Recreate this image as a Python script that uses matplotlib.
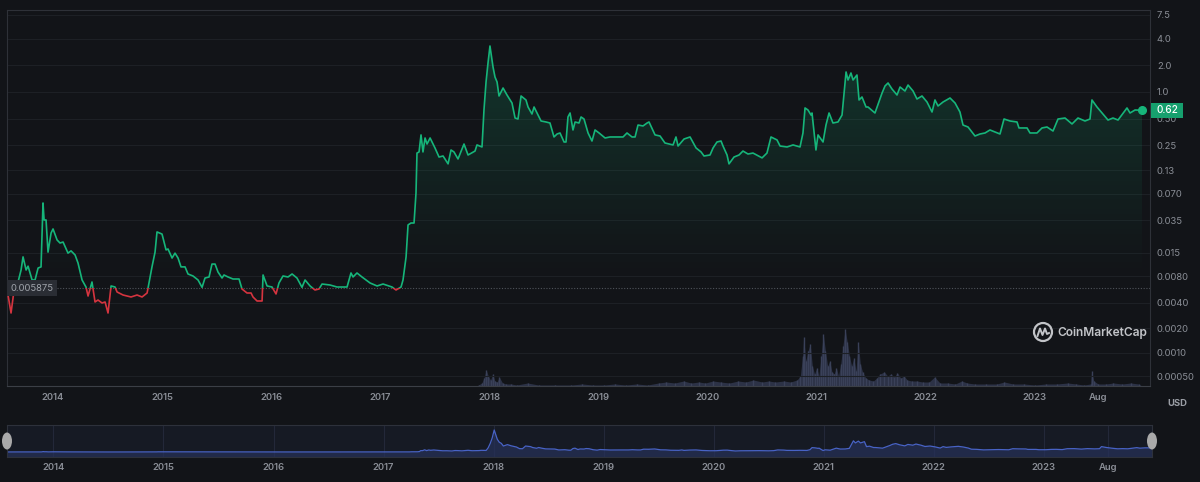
import numpy as np
import matplotlib
matplotlib.use('Agg')
from matplotlib import pyplot as plt
from matplotlib.patches import Rectangle, Ellipse
from matplotlib.lines import Line2D
from matplotlib.ticker import NullLocator
from matplotlib.transforms import blended_transform_factory

# price history (decimal year, USD)
years = [
    2013.578, 2013.615, 2013.643, 2013.670, 2013.707, 2013.725, 2013.753, 2013.771, 2013.808, 2013.835,
    2013.863, 2013.890, 2013.908, 2013.918, 2013.936, 2013.954, 2013.982, 2014.000, 2014.037, 2014.064,
    2014.092, 2014.137, 2014.165, 2014.202, 2014.229, 2014.266, 2014.302, 2014.321, 2014.357, 2014.385,
    2014.412, 2014.449, 2014.477, 2014.504, 2014.532, 2014.568, 2014.587, 2014.642, 2014.715, 2014.770,
    2014.816, 2014.862, 2014.871, 2014.907, 2014.935, 2014.953, 2014.999, 2015.008, 2015.036, 2015.054,
    2015.091, 2015.118, 2015.146, 2015.173, 2015.210, 2015.237, 2015.283, 2015.329, 2015.366, 2015.393,
    2015.430, 2015.457, 2015.485, 2015.512, 2015.549, 2015.567, 2015.604, 2015.650, 2015.705, 2015.732,
    2015.778, 2015.815, 2015.833, 2015.870, 2015.916, 2015.925, 2015.962, 2016.007, 2016.044, 2016.071,
    2016.108, 2016.154, 2016.191, 2016.236, 2016.282, 2016.310, 2016.356, 2016.401, 2016.438, 2016.466,
    2016.539, 2016.603, 2016.695, 2016.731, 2016.750, 2016.786, 2016.832, 2016.906, 2016.970, 2017.025,
    2017.107, 2017.144, 2017.190, 2017.208, 2017.236, 2017.254, 2017.281, 2017.309, 2017.327, 2017.336,
    2017.355, 2017.373, 2017.391, 2017.410, 2017.428, 2017.456, 2017.501, 2017.538, 2017.575, 2017.621,
    2017.648, 2017.675, 2017.712, 2017.767, 2017.804, 2017.868, 2017.886, 2017.932, 2017.950, 2017.969,
    2017.987, 2018.005, 2018.033, 2018.051, 2018.070, 2018.088, 2018.125, 2018.161, 2018.207, 2018.235,
    2018.262, 2018.290, 2018.335, 2018.354, 2018.390, 2018.409, 2018.436, 2018.473, 2018.519, 2018.555,
    2018.592, 2018.620, 2018.647, 2018.684, 2018.702, 2018.720, 2018.739, 2018.766, 2018.785, 2018.821,
    2018.840, 2018.867, 2018.904, 2018.940, 2018.968, 2019.005, 2019.060, 2019.105, 2019.170, 2019.225,
    2019.261, 2019.307, 2019.335, 2019.362, 2019.408, 2019.445, 2019.463, 2019.518, 2019.564, 2019.609,
    2019.683, 2019.710, 2019.729, 2019.784, 2019.839, 2019.894, 2019.940, 2019.967, 2020.022, 2020.050,
    2020.086, 2020.123, 2020.141, 2020.178, 2020.196, 2020.242, 2020.288, 2020.324, 2020.370, 2020.416,
    2020.499, 2020.544, 2020.581, 2020.636, 2020.664, 2020.728, 2020.783, 2020.847, 2020.874, 2020.893,
    2020.920, 2020.948, 2020.957, 2020.993, 2021.012, 2021.058, 2021.085, 2021.113, 2021.149, 2021.195,
    2021.232, 2021.269, 2021.287, 2021.314, 2021.333, 2021.369, 2021.388, 2021.415, 2021.452, 2021.470,
    2021.534, 2021.599, 2021.626, 2021.654, 2021.690, 2021.736, 2021.764, 2021.809, 2021.837, 2021.883,
    2021.919, 2021.965, 2022.011, 2022.057, 2022.084, 2022.112, 2022.158, 2022.222, 2022.268, 2022.313,
    2022.341, 2022.387, 2022.451, 2022.497, 2022.543, 2022.588, 2022.634, 2022.680, 2022.717, 2022.772,
    2022.836, 2022.854, 2022.928, 2022.955, 2023.019, 2023.065, 2023.111, 2023.166, 2023.212, 2023.276,
    2023.340, 2023.395, 2023.459, 2023.505, 2023.523, 2023.569, 2023.615, 2023.670, 2023.716, 2023.762,
    2023.844, 2023.872, 2023.918, 2023.982,
]
prices = [
    0.00574, 0.00302, 0.00559, 0.00622, 0.00949, 0.0134, 0.00949, 0.0105, 0.00729, 0.00729,
    0.0100, 0.0103, 0.0551, 0.0353, 0.0353, 0.0152, 0.0251, 0.0279, 0.0209, 0.0193,
    0.0198, 0.0148, 0.0157, 0.0141, 0.0114, 0.00729, 0.00605, 0.00476, 0.00691, 0.00406,
    0.00428, 0.00395, 0.00406, 0.00302, 0.00622, 0.00605, 0.00530, 0.00489, 0.00464, 0.00489,
    0.00464, 0.00516, 0.00590, 0.0103, 0.0152, 0.0258, 0.0244, 0.0220, 0.0161, 0.0165,
    0.0130, 0.0148, 0.0130, 0.0103, 0.0103, 0.00854, 0.00810, 0.00729, 0.00600, 0.00768,
    0.00789, 0.0111, 0.0111, 0.00900, 0.00768, 0.00832, 0.00789, 0.00748, 0.00748, 0.00574,
    0.00516, 0.00516, 0.00464, 0.00417, 0.00417, 0.00832, 0.00622, 0.00605, 0.00503, 0.00673,
    0.00810, 0.00789, 0.00854, 0.00768, 0.00600, 0.00729, 0.00622, 0.00559, 0.00574, 0.00655,
    0.00638, 0.00605, 0.00605, 0.00877, 0.00789, 0.00877, 0.00789, 0.00673, 0.00622, 0.00655,
    0.00605, 0.00559, 0.00605, 0.00729, 0.0134, 0.0310, 0.0326, 0.0326, 0.0716, 0.203,
    0.209, 0.326, 0.209, 0.301, 0.257, 0.301, 0.232, 0.183, 0.188, 0.153,
    0.220, 0.209, 0.174, 0.257, 0.193, 0.214, 0.251, 0.238, 0.625, 1.298,
    2.132, 3.323, 1.920, 1.480, 1.298, 0.901, 1.110, 0.925, 0.750, 0.507,
    0.494, 0.901, 0.812, 0.676, 0.563, 0.676, 0.578, 0.469, 0.457, 0.445,
    0.309, 0.334, 0.343, 0.271, 0.271, 0.521, 0.578, 0.371, 0.457, 0.445,
    0.521, 0.494, 0.343, 0.278, 0.371, 0.343, 0.301, 0.309, 0.309, 0.309,
    0.343, 0.309, 0.309, 0.422, 0.412, 0.445, 0.457, 0.326, 0.317, 0.264,
    0.251, 0.309, 0.244, 0.293, 0.309, 0.232, 0.209, 0.188, 0.193, 0.232,
    0.271, 0.278, 0.244, 0.193, 0.153, 0.183, 0.193, 0.214, 0.198, 0.203,
    0.179, 0.203, 0.309, 0.286, 0.244, 0.238, 0.251, 0.238, 0.343, 0.659,
    0.625, 0.548, 0.578, 0.220, 0.326, 0.271, 0.422, 0.578, 0.445, 0.457,
    0.548, 1.686, 1.368, 1.642, 1.368, 1.558, 0.812, 0.878, 0.676, 0.676,
    0.578, 0.974, 1.170, 1.265, 1.081, 0.925, 1.139, 1.026, 1.200, 1.026,
    0.833, 0.901, 0.770, 0.593, 0.812, 0.694, 0.770, 0.855, 0.750, 0.593,
    0.422, 0.401, 0.317, 0.334, 0.343, 0.371, 0.352, 0.334, 0.494, 0.469,
    0.457, 0.391, 0.391, 0.343, 0.343, 0.391, 0.401, 0.361, 0.494, 0.507,
    0.434, 0.507, 0.469, 0.494, 0.812, 0.676, 0.578, 0.481, 0.507, 0.481,
    0.659, 0.578, 0.625, 0.62,
]

# trading volume (relative units)
vol_years = [
    2017.88, 2017.90, 2017.93, 2017.95, 2017.97, 2017.99, 2018.01, 2018.03, 2018.05, 2018.07, 2018.09,
    2018.12, 2018.15, 2018.20, 2018.25, 2018.35, 2018.45, 2018.60, 2018.75, 2018.85, 2018.95,
    2019.05, 2019.15, 2019.25, 2019.35, 2019.45, 2019.55, 2019.62, 2019.70, 2019.78, 2019.85,
    2019.92, 2019.98, 2020.05, 2020.12, 2020.20, 2020.28, 2020.35, 2020.42, 2020.50, 2020.56,
    2020.62, 2020.70, 2020.76, 2020.82, 2020.85, 2020.87, 2020.88, 2020.90, 2020.92, 2020.94,
    2020.96, 2020.98, 2021.00, 2021.02, 2021.04, 2021.06, 2021.08, 2021.10, 2021.12, 2021.14,
    2021.16, 2021.18, 2021.20, 2021.22, 2021.24, 2021.26, 2021.28, 2021.30, 2021.32, 2021.34,
    2021.36, 2021.38, 2021.40, 2021.42, 2021.45, 2021.48, 2021.52, 2021.55, 2021.58, 2021.62,
    2021.65, 2021.68, 2021.71, 2021.74, 2021.77, 2021.80, 2021.83, 2021.87, 2021.92, 2021.97,
    2022.03, 2022.08, 2022.13, 2022.20, 2022.27, 2022.33, 2022.38, 2022.45, 2022.55, 2022.65,
    2022.72, 2022.80, 2022.90, 2023.00, 2023.10, 2023.20, 2023.30, 2023.38, 2023.45, 2023.51,
    2023.52, 2023.54, 2023.58, 2023.65, 2023.72, 2023.80, 2023.88, 2023.95, 2023.98,
]
vol_values = [
    0, 1, 3, 8, 16, 10, 6, 12, 5, 4, 9,
    3, 2, 2, 1, 3, 1, 1, 1, 2, 1,
    1, 2, 1, 2, 1, 3, 4, 3, 5, 3,
    4, 3, 5, 4, 3, 5, 4, 6, 4, 5,
    4, 5, 4, 6, 10, 30, 49, 25, 35, 42,
    20, 12, 18, 10, 30, 52, 35, 20, 25, 14,
    12, 18, 10, 22, 40, 57, 44, 30, 20, 28,
    15, 44, 22, 14, 8, 6, 5, 8, 12, 14,
    10, 12, 9, 13, 8, 10, 6, 5, 5, 4,
    4, 9, 3, 3, 2, 5, 3, 2, 2, 2,
    4, 2, 2, 1, 2, 2, 3, 2, 1, 2,
    15, 5, 2, 2, 3, 2, 3, 2, 0,
]

ref_price = 0.005875
tick_values = [7.5, 4.0, 2.0, 1.0, 0.50, 0.25, 0.13, 0.070, 0.035, 0.015,
               0.0080, 0.0040, 0.0020, 0.0010, 0.00050]
tick_labels = ['7.5', '4.0', '2.0', '1.0', '0.50', '0.25', '0.13', '0.070', '0.035', '0.015',
               '0.0080', '0.0040', '0.0020', '0.0010', '0.00050']
year_ticks = [2014, 2015, 2016, 2017, 2018, 2019, 2020, 2021, 2022, 2023, 2023.581]
year_labels = ['2014', '2015', '2016', '2017', '2018', '2019', '2020', '2021', '2022', '2023', 'Aug']

BG = '#121418'
GREEN = '#16b57a'
RED = '#d5343f'
GRID = '#1d2025'
TXT = '#8a8e96'
W, H = 1200, 482
plt.rcParams['font.family'] = ['Inter', 'DejaVu Sans']


def box(x0, y0, x1, y1):
    # pixel box (top-left origin) -> figure rect
    return [x0 / W, 1 - y1 / H, (x1 - x0) / W, (y1 - y0) / H]


OFF = 1e-4


def fwd(v):
    return np.log10(np.maximum(np.asarray(v, dtype=float) + OFF, 1e-9))


def inv(u):
    return 10 ** np.asarray(u, dtype=float) - OFF


yrs = np.array(years)
pr = np.array(prices)
x0, x1 = 2013.578, 2024.055

fig = plt.figure(figsize=(12, 4.82), dpi=100, facecolor=BG)

# volume underneath
axv = fig.add_axes(box(7, 10, 1150, 386))
axv.fill_between(vol_years, vol_values, 0, color='#2c3246', lw=0)
axv.vlines(vol_years, 0, vol_values, color='#3a4159', lw=1.0)
axv.set_xlim(x0, x1)
axv.set_ylim(0, 376)
axv.axis('off')

ax = fig.add_axes(box(7, 10, 1150, 386))
ax.set_facecolor('none')
ax.set_yscale('function', functions=(fwd, inv))

# gradient fill above the reference price
fill = ax.fill_between(yrs, np.maximum(pr, ref_price), ref_price, color='none', lw=0)
clip = fill.get_paths()[0]
fill.remove()
f = np.linspace(0, 1, 256)
alpha = np.clip((f - 0.27) / 0.68, 0, 1) ** 1.2 * 0.22
grad = np.zeros((256, 1, 4))
grad[..., 0] = 0.09
grad[..., 1] = 0.78
grad[..., 2] = 0.52
grad[..., 3] = alpha[:, None]
img = ax.imshow(grad, aspect='auto', extent=[0, 1, 0, 1], origin='lower',
                transform=ax.transAxes, zorder=1, interpolation='bilinear')
img.set_clip_path(clip, ax.transData)

# line: green above the reference price, red below
up = Rectangle((x0, ref_price), x1 - x0, 100, transform=ax.transData)
down = Rectangle((x0, 1e-6), x1 - x0, ref_price - 1e-6, transform=ax.transData)
lg, = ax.plot(yrs, pr, color=GREEN, lw=1.2, zorder=3, solid_joinstyle='round')
lg.set_clip_path(up)
lr, = ax.plot(yrs, pr, color=RED, lw=1.2, zorder=3, solid_joinstyle='round')
lr.set_clip_path(down)
ax.plot(yrs[-1], pr[-1], 'o', ms=5.5, color=GREEN, zorder=5, clip_on=False)
ax.axhline(ref_price, color='#4f535a', lw=0.8, ls=(0, (1, 1.5)), zorder=2)

ax.set_xlim(x0, x1)
ax.set_ylim(0.000364, 8.506)
ax.yaxis.tick_right()
ax.set_yticks(tick_values, tick_labels)
ax.yaxis.set_minor_locator(NullLocator())
ax.set_xticks(year_ticks, year_labels)
ax.tick_params(axis='y', length=0, pad=5, labelsize=6.8, labelcolor=TXT)
ax.tick_params(axis='x', length=0, pad=5, labelsize=6.8, labelcolor=TXT)
for lbl in ax.get_xticklabels():
    lbl.set_fontweight('semibold')
ax.grid(axis='y', color=GRID, lw=0.8)
ax.set_axisbelow(True)
for side in ['top', 'right', 'left']:
    ax.spines[side].set_color('#2e3138')
ax.spines['bottom'].set_color('#3b3f46')

# reference price label
tr = blended_transform_factory(ax.transAxes, ax.transData)
ax.text(0.003, ref_price, '0.005875', transform=tr, ha='left', va='center',
        fontsize=6.8, color='#a0a4ab', zorder=6,
        bbox=dict(boxstyle='square,pad=0.35', fc='#2a2d34', ec='none'))

# last price badge
fig.canvas.draw()
px, py = ax.transData.transform((yrs[-1], pr[-1]))
bx = 1151 / W
by = py / H
fig.patches.append(Rectangle((bx, by - 7.5 / H), 32 / W, 15 / H, transform=fig.transFigure,
                             fc='#16a06e', ec='none', zorder=5))
fig.text(bx + 16 / W, by, '0.62', ha='center', va='center', fontsize=7.2,
         color='white', fontweight='medium', zorder=6)

fig.text(1177 / W, 1 - 404 / H, 'USD', ha='center', va='center', fontsize=6.8,
         fontweight='bold', color='#9a9ea5')

# watermark
fig.patches.append(Ellipse((1043 / W, 1 - 332 / H), 18 / W, 18 / H, transform=fig.transFigure,
                           fc='none', ec='#c2c4c8', lw=1.6))
zx = [1037.5, 1040, 1042.5, 1045, 1047, 1049]
zy = [336, 328.5, 335, 328.5, 334, 333]
fig.lines.append(Line2D([v / W for v in zx], [1 - v / H for v in zy], transform=fig.transFigure,
                        color='#c2c4c8', lw=1.4))
fig.text(1057 / W, 1 - 333 / H, 'CoinMarketCap', ha='left', va='center', fontsize=8.6,
         fontweight='semibold', color='#c2c4c8')

# navigator
axn = fig.add_axes(box(7, 425, 1152, 457))
axn.set_facecolor('#161a24')
axn.fill_between(yrs, pr, -1, color='#27315a', alpha=0.7, lw=0)
axn.plot(yrs, pr, color='#4863c6', lw=0.9)
axn.set_xlim(yrs[0], yrs[-1])
axn.set_ylim(-0.755, 4.075)
axn.set_yticks([])
axn.set_xticks(year_ticks, year_labels)
axn.tick_params(axis='x', length=0, pad=4, labelsize=6.8, labelcolor=TXT)
for lbl in axn.get_xticklabels():
    lbl.set_fontweight('semibold')
axn.grid(axis='x', color='#232839', lw=0.8)
axn.set_axisbelow(True)
for s in axn.spines.values():
    s.set_color('#2d313b')
for hx in (0, 1):
    axn.add_patch(Ellipse((hx, 0.5), 10 / 1145, 17 / 32, transform=axn.transAxes,
                          fc='#a9a9a9', ec='none', clip_on=False, zorder=10))

fig.savefig('out.png', dpi=100, facecolor=BG)
